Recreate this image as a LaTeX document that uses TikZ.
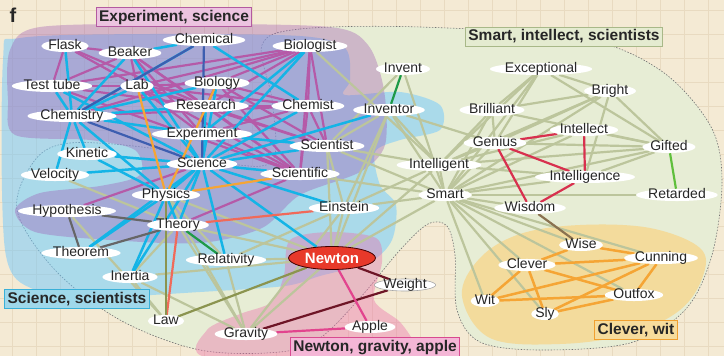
\documentclass[tikz,border=0pt]{standalone}
\usepackage{fontspec}
\setmainfont{Liberation Sans}
\usetikzlibrary{shapes.geometric}

\definecolor{paper}{HTML}{F4EAD4}
\definecolor{paperline}{HTML}{E8DAC0}
\definecolor{smartfill}{HTML}{E7EDD5}
\definecolor{scifill}{HTML}{6EC8FF}
\definecolor{exptfill}{HTML}{9D53B1}
\definecolor{newtonfill}{HTML}{EB6EAA}
\definecolor{cleverfill}{HTML}{F3DB9C}
\definecolor{sagecol}{HTML}{BCC59C}
\definecolor{magentacol}{HTML}{B55AA8}
\definecolor{cyancol}{HTML}{14B4E6}
\definecolor{deepbluecol}{HTML}{3D5EB0}
\definecolor{redcol}{HTML}{D8304E}
\definecolor{orangecol}{HTML}{F5A535}
\definecolor{greycol}{HTML}{666666}
\definecolor{salmoncol}{HTML}{F06A5A}
\definecolor{greencol}{HTML}{1E9A48}
\definecolor{lightgreencol}{HTML}{5FBF3C}
\definecolor{olivecol}{HTML}{8B944F}
\definecolor{marooncol}{HTML}{6E1526}
\definecolor{pinkcol}{HTML}{E2448E}
\definecolor{browncol}{HTML}{8A7250}
\definecolor{newtonred}{HTML}{E8392A}
\definecolor{lblexptfill}{HTML}{ECC3E0}
\definecolor{lblexptline}{HTML}{B35AA0}
\definecolor{lblsmartfill}{HTML}{E4EBD0}
\definecolor{lblsmartline}{HTML}{A8B888}
\definecolor{lblscifill}{HTML}{9FD8EA}
\definecolor{lblsciline}{HTML}{3AB0D8}
\definecolor{lblnewtonfill}{HTML}{F4B6D6}
\definecolor{lblnewtonline}{HTML}{D84A90}
\definecolor{lblcleverfill}{HTML}{F6DC9C}
\definecolor{lblcleverline}{HTML}{F0A030}

\pgfdeclarelayer{regions}
\pgfdeclarelayer{links}
\pgfsetlayers{regions,links,main}

\begin{document}
\begin{tikzpicture}[x=1pt,y=-1pt,
        word/.style={ellipse, fill=white, inner sep=0pt, text height=8pt, text depth=0.5pt,
            font=\fontsize{14}{16}\selectfont, text=black!85},
        setlabel/.style={rectangle, line width=1pt, inner xsep=3pt, inner ysep=2.5pt,
            text height=11pt, text depth=3pt, font=\fontsize{15.5}{18}\selectfont\bfseries, text=black!85},
        link/.style={line width=2.2pt},
        smartlink/.style={link, draw=sagecol},
        exptlink/.style={link, draw=magentacol},
        scilink/.style={link, line width=2.5pt, draw=cyancol},
        clevlink/.style={link, line width=2.5pt, draw=orangecol}]
    \useasboundingbox (0,0) rectangle (724,356);

    % words, science side
    \node (flask) [word] at (65,46) {Flask};
    \node (beaker) [word] at (130,53) {Beaker};
    \node (chemical) [word] at (204,40) {Chemical};
    \node (biologist) [word] at (310,46) {Biologist};
    \node (testtube) [word] at (52,86) {Test tube};
    \node (lab) [word] at (137,86) {Lab};
    \node (biology) [word] at (217,83) {Biology};
    \node (research) [word] at (206,106) {Research};
    \node (chemist) [word] at (308,106) {Chemist};
    \node (chemistry) [word] at (72,116) {Chemistry};
    \node (experiment) [word] at (202,134) {Experiment};
    \node (scientist) [word] at (327,146) {Scientist};
    \node (kinetic) [word] at (87,154) {Kinetic};
    \node (science) [word] at (202,164) {Science};
    \node (scientific) [word] at (300,174) {Scientific};
    \node (velocity) [word] at (55,175) {Velocity};
    \node (physics) [word] at (166,195) {Physics};
    \node (hypothesis) [word] at (67,211) {Hypothesis};
    \node (theory) [word] at (178,225) {Theory};
    \node (theorem) [word] at (81,253) {Theorem};
    \node (relativity) [word] at (226,260) {Relativity};
    \node (inertia) [word] at (130,277) {Inertia};
    \node (law) [word] at (166,321) {Law};
    \node (gravity) [word] at (246,334) {Gravity};
    \node (einstein) [word] at (344,208) {Einstein};
    \node (weight) [word, draw=black!35, line width=0.6pt] at (405,285) {Weight};
    \node (apple) [word] at (370,327) {Apple};
    \node (newton) [ellipse, fill=newtonred, draw=black!75!red, line width=0.8pt, inner sep=0pt,
        minimum width=87pt, minimum height=23pt, text=white,
        font=\fontsize{15}{17}\selectfont\bfseries] at (332,258) {Newton};

    % words, smart side
    \node (invent) [word] at (403,69) {Invent};
    \node (inventor) [word] at (389,110) {Inventor};
    \node (exceptional) [word] at (541,69) {Exceptional};
    \node (bright) [word] at (610,91) {Bright};
    \node (brilliant) [word] at (492,110) {Brilliant};
    \node (intellect) [word] at (584,130) {Intellect};
    \node (genius) [word] at (495,143) {Genius};
    \node (gifted) [word] at (669,147) {Gifted};
    \node (intelligent) [word] at (439,165) {Intelligent};
    \node (intelligence) [word] at (585,177) {Intelligence};
    \node (smart) [word] at (445,195) {Smart};
    \node (retarded) [word] at (677,195) {Retarded};
    \node (wisdom) [word] at (530,208) {Wisdom};
    \node (wise) [word] at (581,245) {Wise};
    \node (cunning) [word] at (661,258) {Cunning};
    \node (clever) [word] at (527,265) {Clever};
    \node (outfox) [word] at (634,295) {Outfox};
    \node (wit) [word] at (485,301) {Wit};
    \node (sly) [word] at (545,314) {Sly};

    % set labels
    \node (panel) [font=\fontsize{20}{22}\selectfont\bfseries, text=black!85] at (13,15) {f};
    \node (lblexpt) [setlabel, fill=lblexptfill, draw=lblexptline] at (174,17) {Experiment, science};
    \node (lblsmart) [setlabel, fill=lblsmartfill, draw=lblsmartline] at (564,37) {Smart, intellect, scientists};
    \node (lblsci) [setlabel, fill=lblscifill, draw=lblsciline] at (77,299) {Science, scientists};
    \node (lblnewton) [setlabel, fill=lblnewtonfill, draw=lblnewtonline] at (375,347) {Newton, gravity, apple};
    \node (lblclever) [setlabel, fill=lblcleverfill, draw=lblcleverline] at (636,330) {Clever, wit};

    \begin{pgfonlayer}{regions}
        \fill[paper] (0,0) rectangle (724,356);
        \foreach \gx in {12,36,...,724} \draw[paperline, line width=0.5pt] (\gx,0) -- (\gx,356);
        \foreach \gy in {10,34,...,356} \draw[paperline, line width=0.5pt] (0,\gy) -- (724,\gy);
        % smart, intellect, scientists
        \draw[fill=smartfill, draw=black!55, line width=0.6pt, dash pattern=on 1.5pt off 1.5pt]
            plot[smooth cycle, tension=0.55] coordinates {(262,45) (300,29) (420,27) (580,38) (660,70)
            (710,125) (722,180) (712,255) (685,310) (630,343) (540,350) (480,342) (457,310) (455,255)
            (447,226) (428,224) (400,250) (360,298) (320,338) (280,352) (200,350) (120,320) (55,270)
            (17,210) (35,160) (70,143) (150,148) (230,164) (273,160) (272,100)};
        % clever, wit
        \fill[cleverfill] plot[smooth cycle, tension=0.6] coordinates {(462,296) (480,258) (520,234)
            (580,225) (650,228) (700,248) (703,276) (680,310) (630,334) (560,344) (490,338)};
        % science, scientists
        \fill[scifill, opacity=0.5] plot[smooth cycle, tension=0.5] coordinates {(3,60) (20,38) (150,34)
            (300,36) (345,48) (350,80) (345,95) (400,92) (440,105) (440,130) (400,140) (375,152)
            (380,185) (396,205) (392,240) (370,262) (320,276) (285,286) (200,292) (100,297) (35,290) (5,250)};
        % experiment, science
        \fill[exptfill, opacity=0.35] plot[smooth cycle, tension=0.5] coordinates {(10,50) (40,27) (180,24)
            (330,27) (368,45) (384,90) (385,145) (360,172) (300,195) (262,228) (200,243) (110,240)
            (35,232) (15,210) (40,193) (100,186) (140,175) (135,150) (90,140) (15,135) (8,100)};
        % newton, gravity, apple
        \fill[newtonfill, opacity=0.4] plot[smooth cycle, tension=0.5] coordinates {(290,240) (330,232)
            (376,238) (382,262) (374,300) (400,322) (415,345) (410,358) (210,358) (207,330) (240,314)
            (272,302) (284,275)};
    \end{pgfonlayer}

    \begin{pgfonlayer}{links}
        \foreach \a/\b in {smart/intelligent, smart/brilliant, smart/genius, smart/intellect, smart/gifted,
                smart/retarded, smart/intelligence, smart/wisdom, smart/exceptional, smart/bright, smart/clever,
                smart/wit, smart/sly, smart/outfox, smart/cunning, smart/wise, smart/inventor, smart/scientist,
                smart/einstein, smart/newton, smart/scientific, smart/invent,
                intelligent/genius, intelligent/brilliant, intelligent/gifted, intelligent/intellect,
                intelligent/intelligence, intelligent/exceptional, intelligent/bright, intelligent/inventor,
                intelligent/scientist, intelligent/einstein, intelligent/biologist, intelligent/newton,
                exceptional/bright, exceptional/gifted, exceptional/genius, exceptional/brilliant,
                bright/brilliant, bright/gifted, bright/genius, bright/intelligence,
                brilliant/gifted, brilliant/genius, gifted/genius, gifted/intellect, gifted/intelligence,
                inventor/scientist, inventor/einstein, inventor/newton, inventor/genius, invent/scientist,
                scientist/newton, scientist/einstein, einstein/newton, einstein/relativity, einstein/gravity,
                newton/relativity, newton/gravity, newton/inertia, newton/theory, newton/physics,
                relativity/gravity, relativity/physics, gravity/physics, gravity/inertia, gravity/theory,
                inertia/law, inertia/theory, hypothesis/law, velocity/theory}
            \draw[smartlink] (\a) -- (\b);
        \foreach \a/\b in {flask/beaker, flask/testtube, flask/lab, flask/research,
                beaker/testtube, beaker/lab, beaker/research, beaker/experiment, beaker/scientific,
                testtube/lab, testtube/research, testtube/biologist, testtube/scientific,
                lab/biology, lab/research, lab/experiment, lab/biologist, lab/chemist, lab/scientist, lab/scientific,
                biology/biologist, biology/chemist, biology/scientist, biology/scientific, biology/research,
                research/chemist, research/scientist, research/scientific,
                biologist/chemist, biologist/scientist, biologist/scientific, biologist/research, biologist/chemistry,
                chemist/scientist, chemist/scientific, chemist/experiment, chemist/chemistry,
                experiment/scientific, hypothesis/science, theory/scientific}
            \draw[exptlink] (\a) -- (\b);
        \foreach \a/\b in {science/experiment, science/research, science/lab, science/biology, science/beaker,
                science/biologist, science/chemist, science/inventor, science/scientist, science/scientific,
                science/einstein, science/newton, science/kinetic, science/velocity, science/physics,
                science/theory, science/theorem, science/inertia, science/relativity, science/testtube,
                chemistry/flask, chemistry/beaker, chemistry/chemical, chemistry/lab, chemistry/biology,
                chemistry/research, chemistry/experiment, chemistry/velocity, chemistry/physics,
                chemistry/kinetic, chemistry/testtube, chemical/beaker, chemical/chemist,
                biologist/experiment, experiment/scientist, physics/theorem, physics/inertia,
                physics/kinetic, physics/theory}
            \draw[scilink] (\a) -- (\b);
        \foreach \a/\b in {chemical/chemistry, chemical/science, chemistry/science}
            \draw[link, draw=deepbluecol] (\a) -- (\b);
        \foreach \a/\b in {lab/physics, biology/physics, physics/scientific}
            \draw[link, draw=orangecol] (\a) -- (\b);
        \foreach \a/\b in {hypothesis/theory, hypothesis/theorem, theorem/theory}
            \draw[link, draw=greycol] (\a) -- (\b);
        \foreach \a/\b in {theory/einstein, theory/law}
            \draw[link, draw=salmoncol] (\a) -- (\b);
        \foreach \a/\b in {physics/law, newton/law}
            \draw[link, draw=olivecol] (\a) -- (\b);
        \draw[link, draw=greencol] (invent) -- (inventor);
        \draw[link, draw=greencol] (theory) -- (relativity);
        \draw[link, draw=marooncol] (newton) -- (weight);
        \draw[link, draw=marooncol] (weight) -- (gravity);
        \draw[link, draw=pinkcol] (newton) -- (apple);
        \draw[link, draw=pinkcol] (gravity) -- (apple);
        \foreach \a/\b in {genius/intellect, genius/intelligence, genius/wisdom, intellect/intelligence,
                intelligence/wisdom}
            \draw[link, draw=redcol] (\a) -- (\b);
        \draw[link, draw=lightgreencol] (gifted) -- (retarded);
        \draw[link, draw=browncol] (wisdom) -- (wise);
        \foreach \a/\b in {wise/clever, wise/cunning, clever/cunning, clever/wit, clever/sly, clever/outfox,
                cunning/wit, cunning/sly, cunning/outfox, wit/outfox, sly/outfox}
            \draw[clevlink] (\a) -- (\b);
    \end{pgfonlayer}
\end{tikzpicture}
\end{document}
